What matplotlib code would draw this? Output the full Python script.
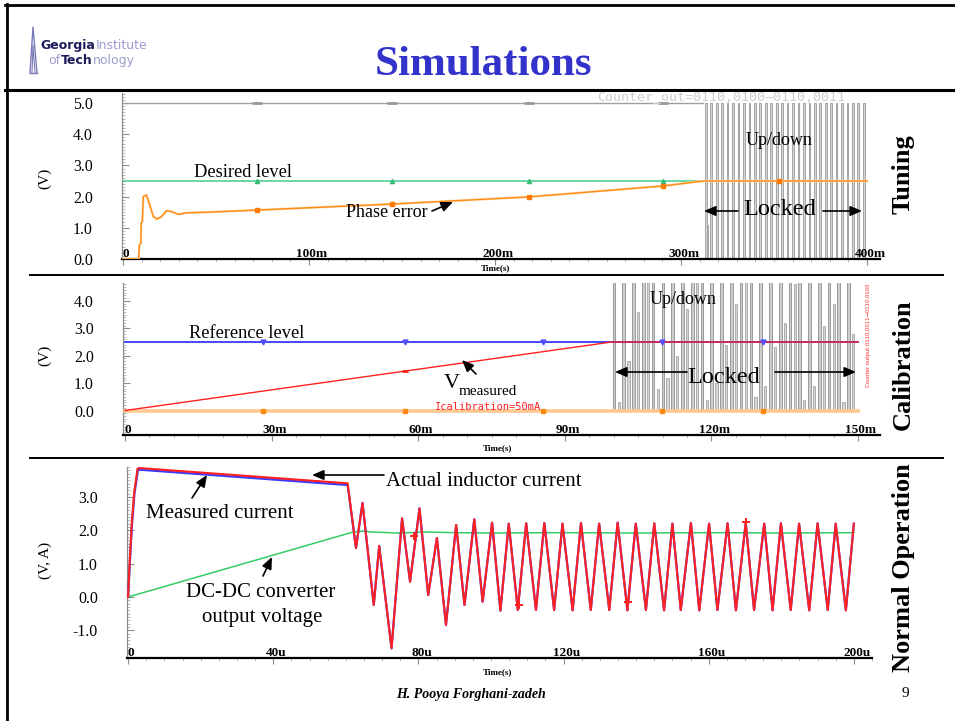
import matplotlib
matplotlib.use('Agg')
import matplotlib.pyplot as plt
from matplotlib.transforms import blended_transform_factory, ScaledTranslation
from matplotlib.lines import Line2D
from matplotlib.patches import FancyArrowPatch
from matplotlib.ticker import MultipleLocator

# ---------------- data ----------------
# Panel 1: Tuning (time in ms, volts)
tune_phase_t = [0, 8.4, 8.8, 9.6, 9.8, 10.4, 10.9, 12.5, 13.5, 16.3, 18.1, 20.5, 23.5, 26.0,
                29.7, 34.2, 45.0, 72.8, 144.4, 218.3, 290.3, 312.0, 400.0]
tune_phase_v = [0, 0, 0.45, 0.5, 1.15, 1.2, 2.0, 2.05, 1.9, 1.36, 1.28, 1.35, 1.55, 1.52,
                1.43, 1.48, 1.5, 1.57, 1.76, 1.99, 2.34, 2.5, 2.5]
tune_desired_t = [0, 312.0]
tune_desired_v = [2.5, 2.5]
tune_top_t = [0, 312.0]
tune_top_v = [5.0, 5.0]
tune_pulse_t = [312.9, 315.8, 318.8, 321.7, 324.6, 327.6, 330.5, 333.4, 336.3, 339.3,
                342.2, 345.1, 348.1, 351.0, 353.9, 356.9, 359.8, 362.7, 365.6, 368.6,
                371.5, 374.4, 377.4, 380.3, 383.2, 386.2, 389.1, 392.0, 394.9, 397.9]
tune_pulse_h = [5.0] * 30
tune_spike_t = [313.9]
tune_spike_h = [1.1]
tune_marker_t = [71.9, 144.4, 218.3, 290.3]
tune_phase_marker_v = [1.57, 1.76, 1.99, 2.34]
tune_xticks = [0, 100, 200, 300, 400]
tune_xticklabels = ['0', '100m', '200m', '300m', '400m']
tune_yticks = [0, 1, 2, 3, 4, 5]
tune_yticklabels = ['0.0', '1.0', '2.0', '3.0', '4.0', '5.0']

# Panel 2: Calibration (time in ms, volts)
cal_ref_t = [0, 150.0]
cal_ref_v = [2.5, 2.5]
cal_meas_t = [0, 99.6, 150.0]
cal_meas_v = [0, 2.5, 2.5]
cal_ical_t = [0, 150.0]
cal_ical_v = [0, 0]
cal_main_pulse_t = [99.8, 101.8, 103.8, 105.8, 107.8, 109.8, 111.8, 113.8, 115.8, 117.8,
                    119.8, 121.8, 123.8, 125.8, 127.8, 129.8, 131.8, 133.8, 135.8, 137.8,
                    139.8, 141.8, 143.8, 145.8, 147.8]
cal_main_pulse_h = [4.7] * 25
cal_sec_pulse_t = [100.8, 102.8, 104.8, 106.8, 108.8, 110.8, 112.8, 114.8, 116.8, 118.8,
                   120.8, 122.8, 124.8, 126.8, 128.8, 130.8, 132.8, 134.8, 136.8, 138.8,
                   140.8, 142.8, 144.8, 146.8, 148.8]
cal_sec_pulse_h = [0.3, 1.8, 3.6, 4.7, 0.8, 1.2, 2.0, 3.7, 4.7, 0.4, 1.0, 2.4, 3.9,
                   4.7, 0.5, 0.9, 2.3, 3.2, 4.6, 0.4, 0.9, 3.1, 3.9, 0.3, 2.8]
cal_marker_t = [28.2, 57.3, 85.5, 109.8, 130.6]
cal_xticks = [0, 30, 60, 90, 120, 150]
cal_xticklabels = ['0', '30m', '60m', '90m', '120m', '150m']
cal_yticks = [0, 1, 2, 3, 4]
cal_yticklabels = ['0.0', '1.0', '2.0', '3.0', '4.0']

# Panel 3: Normal operation (time in us, V / A)
op_current_t = [0, 0.37, 1.0, 1.7, 2.6, 3.0, 60.5, 62.8, 64.6, 67.7, 69.2, 72.6, 75.5, 77.7,
                80.3, 82.7, 85.1, 87.6, 90.4, 92.7, 95.4, 97.7, 100.3, 102.6, 104.9, 107.4,
                109.7, 112.4, 114.7, 117.4, 119.7, 122.5, 124.8, 127.5, 129.8, 132.6, 134.9,
                137.6, 139.9, 142.7, 145.0, 147.7, 150.0, 152.3, 155.1, 157.4, 160.1, 162.4,
                165.2, 167.5, 170.2, 172.5, 175.3, 177.6, 179.9, 182.6, 184.9, 187.7, 190.0,
                192.8, 195.0, 197.8, 200.0]
op_current_v = [0, 0.9, 2.2, 3.15, 3.85, 3.87, 3.41, 1.47, 2.82, -0.24, 1.53, -1.54, 2.36, 0.46,
                2.66, 0.06, 1.77, -0.84, 2.16, -0.24, 2.33, -0.14, 2.23, -0.41, 2.2, -0.39,
                2.21, -0.39, 2.22, -0.39, 2.2, -0.4, 2.22, -0.39, 2.2, -0.39, 2.23,
                -0.4, 2.2, -0.39, 2.21, -0.4, 2.2, -0.39, 2.22, -0.4, 2.2, -0.39,
                2.21, -0.4, 2.22, -0.39, 2.2, -0.4, 2.21, -0.39, 2.2, -0.4, 2.21,
                -0.39, 2.2, -0.4, 2.2]
op_meas_t = [0, 0.4, 1.05, 1.75, 2.7, 3.1, 60.5, 62.8]
op_meas_v = [0, 0.85, 2.15, 3.1, 3.8, 3.82, 3.36, 1.47]
op_vout_t = [0, 61.4, 63.0, 65.0, 67.0, 70.0, 74.0, 78.0, 82.0, 90.0, 100.0, 120.0, 140.0,
             160.0, 180.0, 200.0]
op_vout_v = [0, 1.93, 1.96, 1.98, 1.95, 1.94, 1.92, 1.93, 1.95, 1.93, 1.92, 1.93, 1.92,
             1.93, 1.92, 1.93]
op_marker_t = [78.8, 107.6, 137.8, 170.2]
op_marker_v = [1.83, -0.25, -0.15, 2.25]
op_xticks = [0, 40, 80, 120, 160, 200]
op_xticklabels = ['0', '40u', '80u', '120u', '160u', '200u']
op_yticks = [-1, 0, 1, 2, 3]
op_yticklabels = ['-1.0', '0.0', '1.0', '2.0', '3.0']

# ---------------- figure ----------------
W, H = 955, 721
plt.rcParams['font.family'] = ['Liberation Serif', 'DejaVu Serif']
fig = plt.figure(figsize=(9.55, 7.21), dpi=100)
fig.patch.set_facecolor('white')
renderer = fig.canvas.get_renderer()


def fx(x):
    return x / W


def fy(y):
    return 1 - y / H


def axes_px(x0, y0, x1, y1):
    return fig.add_axes([x0 / W, 1 - y1 / H, (x1 - x0) / W, (y1 - y0) / H])


def ftext(x, y, s, **kw):
    return fig.text(fx(x), fy(y), s, **kw)


def fline(xs, ys, **kw):
    fig.add_artist(Line2D([fx(v) for v in xs], [fy(v) for v in ys],
                          transform=fig.transFigure, **kw))


def farrow(x0, y0, x1, y1, lw=1.2):
    a = FancyArrowPatch((fx(x0), fy(y0)), (fx(x1), fy(y1)), transform=fig.transFigure,
                        arrowstyle='-|>,head_length=0.7,head_width=0.3', mutation_scale=10,
                        lw=lw, color='black', shrinkA=0, shrinkB=0)
    fig.add_artist(a)


def style_axes(ax, xlim, ylim, xticks, xticklabels, yticks, yticklabels, xminor):
    ax.set_xlim(xlim)
    ax.set_ylim(ylim)
    ax.patch.set_alpha(0)
    for s in ['top', 'right']:
        ax.spines[s].set_visible(False)
    ax.spines['left'].set_color('#8c8c8c')
    ax.spines['left'].set_linewidth(0.9)
    ax.spines['bottom'].set_color('black')
    ax.spines['bottom'].set_linewidth(1.6)
    ax.set_yticks(yticks)
    ax.set_yticklabels(yticklabels, fontsize=11.5)
    ax.yaxis.set_minor_locator(MultipleLocator(0.1))
    ax.tick_params(axis='y', which='major', direction='in', length=5, width=0.8,
                   color='#8c8c8c', pad=21)
    ax.tick_params(axis='y', which='minor', direction='in', length=2.5, width=0.6,
                   color='#b0b0b0')
    ax.set_xticks(xticks)
    ax.set_xticklabels([])
    ax.xaxis.set_minor_locator(MultipleLocator(xminor))
    ax.tick_params(axis='x', which='major', direction='out', length=4, width=0.8,
                   color='#8c8c8c')
    ax.tick_params(axis='x', which='minor', direction='out', length=2.5, width=0.6,
                   color='#b0b0b0')
    trans = blended_transform_factory(ax.transData, ax.transAxes) + \
        ScaledTranslation(3 / 100, 2 / 100, fig.dpi_scale_trans)
    for t, lab in zip(xticks, xticklabels):
        ax.text(t, 0, lab, transform=trans, ha='center', va='baseline', fontsize=9.5,
                fontweight='bold', clip_on=False)


# ---------------- slide frame ----------------
fline([5, 955], [4.5, 4.5], color='black', lw=2)
fline([6.5, 6.5], [4, 721], color='black', lw=2)
fline([5, 955], [90, 90], color='black', lw=2.2)
fline([30, 943], [275, 275], color='black', lw=1.4)
fline([30, 943], [458, 458], color='black', lw=1.4)

# logo
fline([30, 33, 37], [73, 27, 73], color='#7a7ab8', lw=1.0)
fline([32, 33, 35], [73, 45, 73], color='#7a7ab8', lw=0.8)
fline([30, 37], [73, 73], color='#7a7ab8', lw=1.0)


def logo_row(x, y, parts):
    for s, bold in parts:
        t = ftext(x, y, s, fontsize=9, fontweight='bold' if bold else 'normal',
                  color='#1c1c5a' if bold else '#9c9cd0', family=['DejaVu Sans'],
                  va='baseline')
        x = t.get_window_extent(renderer).x1 + 0.5


logo_row(40, 49, [('Georgia', True), ('Institute', False)])
logo_row(48, 64, [('of', False), ('Tech', True), ('nology', False)])

ftext(483, 75, 'Simulations', ha='center', va='baseline', fontsize=31,
      fontweight='bold', color='#3333CC')

# ---------------- panel 1: tuning ----------------
ax1 = axes_px(122, 93, 880, 259)
style_axes(ax1, (-0.54, 407.0), (0, 5.32), tune_xticks, tune_xticklabels,
           tune_yticks, tune_yticklabels, 10)
ax1.bar(tune_pulse_t, tune_pulse_h, width=0.9, align='edge', color='#d4d4d4',
        edgecolor='#a4a4a4', linewidth=0.7, zorder=2)
ax1.bar(tune_spike_t, tune_spike_h, width=0.5, align='edge', color='#d4d4d4',
        edgecolor='#a4a4a4', linewidth=0.7, zorder=2)
ax1.plot(tune_top_t, tune_top_v, color='#a0a0a0', lw=1.0, zorder=3)
ax1.plot(tune_desired_t, tune_desired_v, color='#44cc88', lw=1.1, zorder=3)
ax1.plot(tune_phase_t, tune_phase_v, color='#ffdcb4', lw=1.8, zorder=3)
ax1.plot(tune_phase_t, tune_phase_v, color='#ff8a10', lw=1.0, zorder=4)
ax1.plot(tune_marker_t, tune_top_v[:1] * 4, ls='none', marker='_', ms=7, mew=2,
         color='#999999', zorder=5)
ax1.plot(tune_marker_t, tune_desired_v[:1] * 4, ls='none', marker='^', ms=3,
         color='#33bb77', zorder=5)
ax1.plot(tune_marker_t + [352.7], tune_phase_marker_v + [2.5], ls='none', marker='s',
         ms=2.5, color='#ff7a00', zorder=5)
ftext(597, 100, 'Counter_out=0110,0100\u20140110,0011', fontsize=9.6,
      family=['DejaVu Sans Mono'], color='#cdcdcd', va='baseline')
ftext(45, 178, '(V)', rotation=90, ha='center', va='center', fontsize=11)
ftext(495, 268, 'Time(s)', ha='center', va='center', fontsize=6.5, fontweight='bold')
ftext(243, 177, 'Desired level', ha='center', va='baseline', fontsize=13.2)
ftext(387, 217, 'Phase error', ha='center', va='baseline', fontsize=13)
farrow(432, 211, 453, 202)
ftext(779, 145, 'Up/down', ha='center', va='baseline', fontsize=13)
ftext(780, 215, 'Locked', ha='center', va='baseline', fontsize=17.5)
farrow(738, 211, 704, 211)
farrow(823, 211, 862, 211)
ftext(903, 174, 'Tuning', rotation=90, ha='center', va='center', fontsize=19,
      fontweight='bold')

# ---------------- panel 2: calibration ----------------
ax2 = axes_px(123, 283, 880, 435)
style_axes(ax2, (-0.41, 154.5), (-0.894, 4.653), cal_xticks, cal_xticklabels,
           cal_yticks, cal_yticklabels, 5)
ax2.bar(cal_main_pulse_t, cal_main_pulse_h, width=0.55, align='edge', color='#cccccc',
        edgecolor='#9a9a9a', linewidth=0.7, zorder=2)
ax2.bar(cal_sec_pulse_t, cal_sec_pulse_h, width=0.45, align='edge', color='#d4d4d4',
        edgecolor='#a4a4a4', linewidth=0.6, zorder=2)
ax2.plot(cal_ical_t, cal_ical_v, color='#ffc890', lw=2.6, zorder=3)
ax2.plot(cal_ref_t, cal_ref_v, color='#4848ff', lw=1.4, zorder=3)
ax2.plot(cal_meas_t, cal_meas_v, color='#ff2020', lw=1.0, zorder=4)
ax2.plot(cal_marker_t, cal_ref_v[:1] * 5, ls='none', marker='v', ms=3.5,
         color='#5050ff', zorder=5)
ax2.plot(cal_marker_t, cal_ical_v[:1] * 5, ls='none', marker='s', ms=2.5,
         color='#ff8a10', zorder=5)
ax2.plot([57.3], [1.44], ls='none', marker='_', ms=5, mew=2, color='#ff2020', zorder=5)
ftext(435, 409.5, 'Icalibration=50mA', fontsize=7.5, family=['DejaVu Sans Mono'],
      color='#ff2020', va='baseline')
ftext(868, 335, 'Counter output 0110,0011\u21920110,0100', rotation=90, ha='center',
      va='center', fontsize=3.8, color='#ff2020', family=['DejaVu Sans'])
ftext(45, 355, '(V)', rotation=90, ha='center', va='center', fontsize=11)
ftext(497, 448, 'Time(s)', ha='center', va='center', fontsize=6.5, fontweight='bold')
ftext(247, 338, 'Reference level', ha='center', va='baseline', fontsize=13.2)
ftext(444, 388, 'V', ha='left', va='baseline', fontsize=16)
ftext(459, 395, 'measured', ha='left', va='baseline', fontsize=11)
farrow(476, 374, 462, 360)
ftext(683, 304, 'Up/down', ha='center', va='baseline', fontsize=13)
ftext(724, 383, 'Locked', ha='center', va='baseline', fontsize=17.5)
farrow(687, 372, 615, 372)
farrow(775, 372, 856, 372)
ftext(903, 365, 'Calibration', rotation=90, ha='center', va='center', fontsize=19,
      fontweight='bold')

# ---------------- panel 3: normal operation ----------------
ax3 = axes_px(127, 467, 872, 658)
style_axes(ax3, (-0.3, 205.0), (-1.83, 3.9), op_xticks, op_xticklabels,
           op_yticks, op_yticklabels, 5)
ax3.plot(op_vout_t, op_vout_v, color='#33cc66', lw=1.1, zorder=3)
ax3.plot(op_meas_t + op_current_t[8:], op_meas_v + op_current_v[8:], color='#3a3aff',
         lw=1.6, zorder=3)
ax3.plot(op_current_t, op_current_v, color='#ff2020', lw=1.5, zorder=4)
ax3.plot(op_marker_t, op_marker_v, ls='none', marker='+', ms=6, mew=1.4,
         color='#ff2020', zorder=5)
ftext(45, 560, '(V, A)', rotation=90, ha='center', va='center', fontsize=11)
ftext(497, 672, 'Time(s)', ha='center', va='center', fontsize=6.5, fontweight='bold')
ftext(484, 486, 'Actual inductor current', ha='center', va='baseline', fontsize=15)
farrow(384, 475, 312, 475)
ftext(220, 518, 'Measured current', ha='center', va='baseline', fontsize=15)
farrow(192, 498, 207, 475)
ftext(261, 597, 'DC-DC converter', ha='center', va='baseline', fontsize=15)
ftext(262, 622, 'output voltage', ha='center', va='baseline', fontsize=15)
farrow(263, 576, 272, 557)
ftext(903, 568, 'Normal Operation', rotation=90, ha='center', va='center', fontsize=19,
      fontweight='bold')

# footer
ftext(471, 698, 'H. Pooya Forghani-zadeh', ha='center', va='baseline', fontsize=10,
      fontweight='bold', fontstyle='italic')
ftext(905, 697, '9', ha='center', va='baseline', fontsize=11)

fig.savefig('out.png', dpi=100)
